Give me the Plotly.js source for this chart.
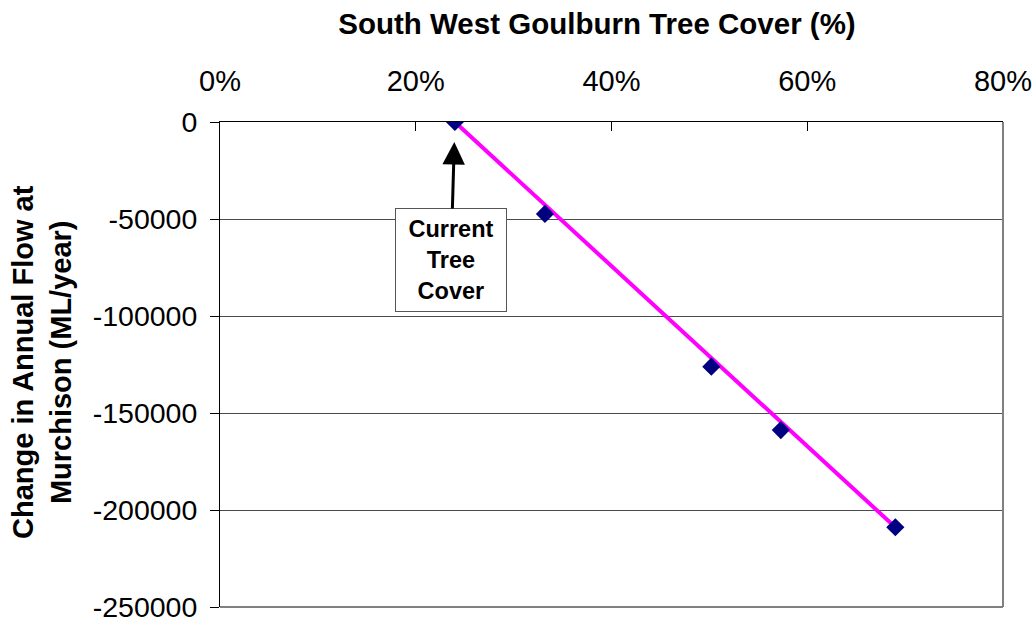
<!DOCTYPE html>
<html>
<head>
<meta charset="utf-8">
<script src="https://cdn.plot.ly/plotly-3.0.1.min.js"></script>
<style>
html,body{margin:0;padding:0;background:#fff;}
#chart{width:1034px;height:618px;}
</style>
</head>
<body>
<div id="chart"></div>
<script>
// Data
const treeCover = [0.240, 0.332, 0.502, 0.573, 0.690];
const flowChange = [0, -47400, -126100, -158800, -208900];
// Magenta line endpoints (as drawn in the reference)
const lineX = [0.240, 0.690];
const lineY = [0, -208900];
// Tick labels
const xTickVals = [0, 0.2, 0.4, 0.6, 0.8];
const xTickText = ['0%', '20%', '40%', '60%', '80%'];
const yTickVals = [0, -50000, -100000, -150000, -200000, -250000];
const yTickText = ['0', '-50000', '-100000', '-150000', '-200000', '-250000'];

const FONT = 'Liberation Sans, Arial, sans-serif';

const traces = [
  {
    x: lineX, y: lineY, type: 'scatter', mode: 'lines',
    line: {color: '#FF00FF', width: 4},
    hoverinfo: 'skip', showlegend: false
  },
  {
    x: treeCover, y: flowChange, type: 'scatter', mode: 'markers',
    marker: {symbol: 'diamond', size: 14, color: '#000080', line: {width: 0}},
    showlegend: false
  }
];

const layout = {
  width: 1034, height: 618,
  paper_bgcolor: '#ffffff', plot_bgcolor: '#ffffff',
  margin: {l: 220, r: 31, t: 122, b: 11, pad: 0},
  font: {family: FONT, color: '#000'},
  title: {
    text: '<b>South West Goulburn Tree Cover (%)</b>',
    font: {family: FONT, size: 29.5, color: '#000'},
    xref: 'container', yref: 'container',
    x: 597 / 1034, xanchor: 'center',
    y: 1 - 24 / 618, yanchor: 'middle'
  },
  xaxis: {
    side: 'top', range: [0, 0.8],
    tickvals: xTickVals, ticktext: xTickText,
    ticks: 'inside', ticklen: 9, tickcolor: '#000', tickwidth: 1,
    tickfont: {family: FONT, size: 29, color: '#000'},
    ticklabelstandoff: 18,
    showline: true, linecolor: '#000', linewidth: 1,
    showgrid: false, zeroline: false, mirror: false,
    automargin: false, fixedrange: true
  },
  yaxis: {
    range: [-250000, 0],
    tickvals: yTickVals, ticktext: yTickText,
    ticks: 'outside', ticklen: 9, tickcolor: '#000', tickwidth: 1,
    tickfont: {family: FONT, size: 28.5, color: '#000'},
    ticklabelstandoff: 7,
    ticklabeloverflow: 'allow',
    showline: true, linecolor: '#000', linewidth: 1,
    showgrid: true, gridcolor: '#4a4a4a', gridwidth: 1,
    zeroline: false, mirror: false,
    automargin: false, fixedrange: true
  },
  shapes: [
    {type: 'line', xref: 'paper', yref: 'paper', x0: 1, x1: 1, y0: 0, y1: 1,
     line: {color: '#808080', width: 2}},
    {type: 'line', xref: 'paper', yref: 'paper', x0: 0, x1: 1, y0: 0, y1: 0,
     line: {color: '#808080', width: 2}}
  ],
  annotations: [
    {
      text: '<b>Current<br>Tree<br>Cover</b>',
      font: {family: FONT, size: 23.5, color: '#000'},
      xref: 'x', yref: 'y', x: treeCover[0], y: flowChange[0],
      showarrow: true, ax: -4, ay: 138,
      arrowhead: 2, arrowsize: 1.5, arrowwidth: 3, arrowcolor: '#000',
      standoff: 20,
      bordercolor: '#555', borderwidth: 1, borderpad: 3,
      bgcolor: '#fff', width: 104, height: 96, align: 'center'
    },
    {
      text: '<b>Change in Annual Flow at<br>Murchison (ML/year)</b>',
      font: {family: FONT, size: 29, color: '#000'},
      xref: 'paper', yref: 'paper',
      x: (42 - 220) / 783, y: (607 - 362) / 485,
      xanchor: 'center', yanchor: 'middle',
      textangle: -90, showarrow: false, align: 'center'
    }
  ]
};

Plotly.newPlot('chart', traces, layout, {displayModeBar: false, staticPlot: true});
</script>
</body>
</html>
